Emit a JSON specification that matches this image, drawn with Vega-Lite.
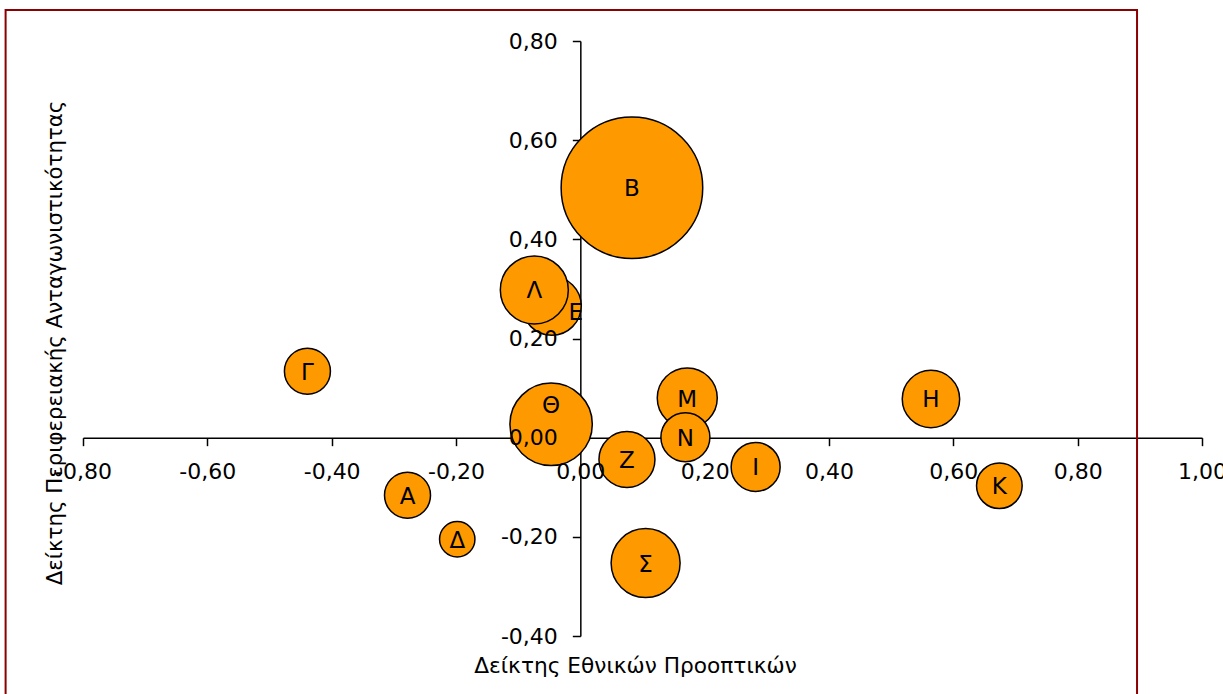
{
  "$schema": "https://vega.github.io/schema/vega-lite/v6.json",
  "width": 1119,
  "height": 595,
  "autosize": {"type": "none"},
  "padding": {"left": 83, "top": 41, "right": 21, "bottom": 58},
  "background": "white",
  "config": {"view": {"stroke": null}, "font": "DejaVu Sans"},
  "data": {
    "values": [
      {"label": "Α", "x": -0.278, "y": -0.116, "v": 529},
      {"label": "Β", "x": 0.083, "y": 0.504, "v": 5013},
      {"label": "Γ", "x": -0.439, "y": 0.134, "v": 529},
      {"label": "Δ", "x": -0.198, "y": -0.205, "v": 313},
      {"label": "Ε", "x": -0.046, "y": 0.266, "v": 870},
      {"label": "Ζ", "x": 0.075, "y": -0.044, "v": 784},
      {"label": "Η", "x": 0.564, "y": 0.078, "v": 824},
      {"label": "Θ", "x": -0.047, "y": 0.027, "v": 1697},
      {"label": "Ι", "x": 0.282, "y": -0.059, "v": 600},
      {"label": "Κ", "x": 0.674, "y": -0.097, "v": 520},
      {"label": "Λ", "x": -0.074, "y": 0.298, "v": 1156},
      {"label": "Μ", "x": 0.172, "y": 0.080, "v": 900},
      {"label": "Ν", "x": 0.169, "y": 0.001, "v": 600},
      {"label": "Σ", "x": 0.105, "y": -0.253, "v": 1190}
    ]
  },
  "resolve": {"axis": {"x": "independent", "y": "independent"}},
  "layer": [
    {
      "data": {"values": [{}]},
      "mark": {"type": "rect", "fill": null, "stroke": "#8B0000", "strokeWidth": 2, "clip": false},
      "encoding": {
        "x": {"datum": -0.9245, "type": "quantitative", "axis": null, "scale": {"domain": [-0.8, 1.0], "nice": false, "zero": false}},
        "x2": {"datum": 0.8955},
        "y": {"datum": 0.8625, "type": "quantitative", "axis": null, "scale": {"domain": [-0.4, 0.8], "nice": false, "zero": false}},
        "y2": {"datum": -0.55}
      }
    },
    {
      "mark": {"type": "circle", "fill": "#FF9900", "stroke": "black", "strokeWidth": 1.5, "opacity": 1, "fillOpacity": 1, "clip": false},
      "encoding": {
        "x": {
          "field": "x", "type": "quantitative",
          "scale": {"domain": [-0.8, 1.0], "nice": false, "zero": false},
          "axis": {"orient": "bottom", "offset": -198.33, "labels": false, "title": null, "grid": false,
                   "domain": true, "domainColor": "black", "domainWidth": 1.5,
                   "ticks": true, "tickColor": "black", "tickSize": 8, "tickWidth": 1.5,
                   "values": [-0.8, -0.6, -0.4, -0.2, 0, 0.2, 0.4, 0.6, 0.8, 1.0], "zindex": 0}
        },
        "y": {
          "field": "y", "type": "quantitative",
          "scale": {"domain": [-0.4, 0.8], "nice": false, "zero": false},
          "axis": {"orient": "left", "offset": -497.33, "labels": false, "title": null, "grid": false,
                   "domain": true, "domainColor": "black", "domainWidth": 1.5,
                   "ticks": true, "tickColor": "black", "tickSize": 8, "tickWidth": 1.5,
                   "values": [-0.4, -0.2, 0, 0.2, 0.4, 0.6, 0.8], "zindex": 0}
        },
        "size": {"field": "v", "type": "quantitative", "legend": null,
                 "scale": {"type": "linear", "domain": [0, 5100], "range": [0, 20400], "zero": true}}
      }
    },
    {
      "transform": [{"filter": "datum.label !== 'Θ' && datum.label !== 'Ε'"}],
      "mark": {"type": "text", "fontSize": 23, "font": "DejaVu Sans", "color": "black", "align": "center", "baseline": "middle", "dy": 1.5},
      "encoding": {
        "x": {
          "field": "x", "type": "quantitative",
          "scale": {"domain": [-0.8, 1.0], "nice": false, "zero": false},
          "axis": {"orient": "bottom", "offset": -198.33, "domain": false, "ticks": false, "tickSize": 0, "grid": false,
                   "labels": true, "labelPadding": 24, "labelFontSize": 22, "labelFont": "DejaVu Sans", "labelColor": "black",
                   "labelOverlap": false, "labelFlush": false,
                   "values": [-0.8, -0.6, -0.4, -0.2, 0, 0.2, 0.4, 0.6, 0.8, 1.0],
                   "labelExpr": "replace(replace(format(datum.value, '.2f'), '.', ','), '\u2212', '-')",
                   "title": "Δείκτης Εθνικών Προοπτικών", "titleFont": "DejaVu Sans", "titleFontSize": 21.7, "titleFontWeight": "normal",
                   "titleColor": "black", "titleAlign": "center", "titleBaseline": "alphabetic", "titleX": 552, "titleY": 235,
                   "zindex": 1}
        },
        "y": {
          "field": "y", "type": "quantitative",
          "scale": {"domain": [-0.4, 0.8], "nice": false, "zero": false},
          "axis": {"orient": "left", "offset": -497.33, "domain": false, "ticks": false, "tickSize": 0, "grid": false,
                   "labels": true, "labelPadding": 23, "labelFontSize": 22, "labelFont": "DejaVu Sans", "labelColor": "black",
                   "labelOverlap": false, "labelFlush": false,
                   "values": [-0.4, -0.2, 0, 0.2, 0.4, 0.6, 0.8],
                   "labelExpr": "replace(replace(format(datum.value, '.2f'), '.', ','), '\u2212', '-')",
                   "title": "Δείκτης Περιφερειακής Ανταγωνιστικότητας", "titleFont": "DejaVu Sans", "titleFontSize": 21.3, "titleFontWeight": "normal",
                   "titleColor": "black", "titleAlign": "center", "titleBaseline": "alphabetic", "titleAngle": 270,
                   "titleX": -519.3, "titleY": 301.5,
                   "zindex": 1}
        },
        "text": {"field": "label"}
      }
    },
    {
      "transform": [{"filter": "datum.label === 'Θ'"}],
      "mark": {"type": "text", "fontSize": 23, "font": "DejaVu Sans", "color": "black", "align": "center", "baseline": "middle", "dy": -18},
      "encoding": {
        "x": {"field": "x", "type": "quantitative", "axis": null, "scale": {"domain": [-0.8, 1.0], "nice": false, "zero": false}},
        "y": {"field": "y", "type": "quantitative", "axis": null, "scale": {"domain": [-0.4, 0.8], "nice": false, "zero": false}},
        "text": {"field": "label"}
      }
    },
    {
      "transform": [{"filter": "datum.label === 'Ε'"}],
      "mark": {"type": "text", "fontSize": 23, "font": "DejaVu Sans", "color": "black", "align": "center", "baseline": "middle", "dx": 24, "dy": 7},
      "encoding": {
        "x": {"field": "x", "type": "quantitative", "axis": null, "scale": {"domain": [-0.8, 1.0], "nice": false, "zero": false}},
        "y": {"field": "y", "type": "quantitative", "axis": null, "scale": {"domain": [-0.4, 0.8], "nice": false, "zero": false}},
        "text": {"field": "label"}
      }
    }
  ]
}
